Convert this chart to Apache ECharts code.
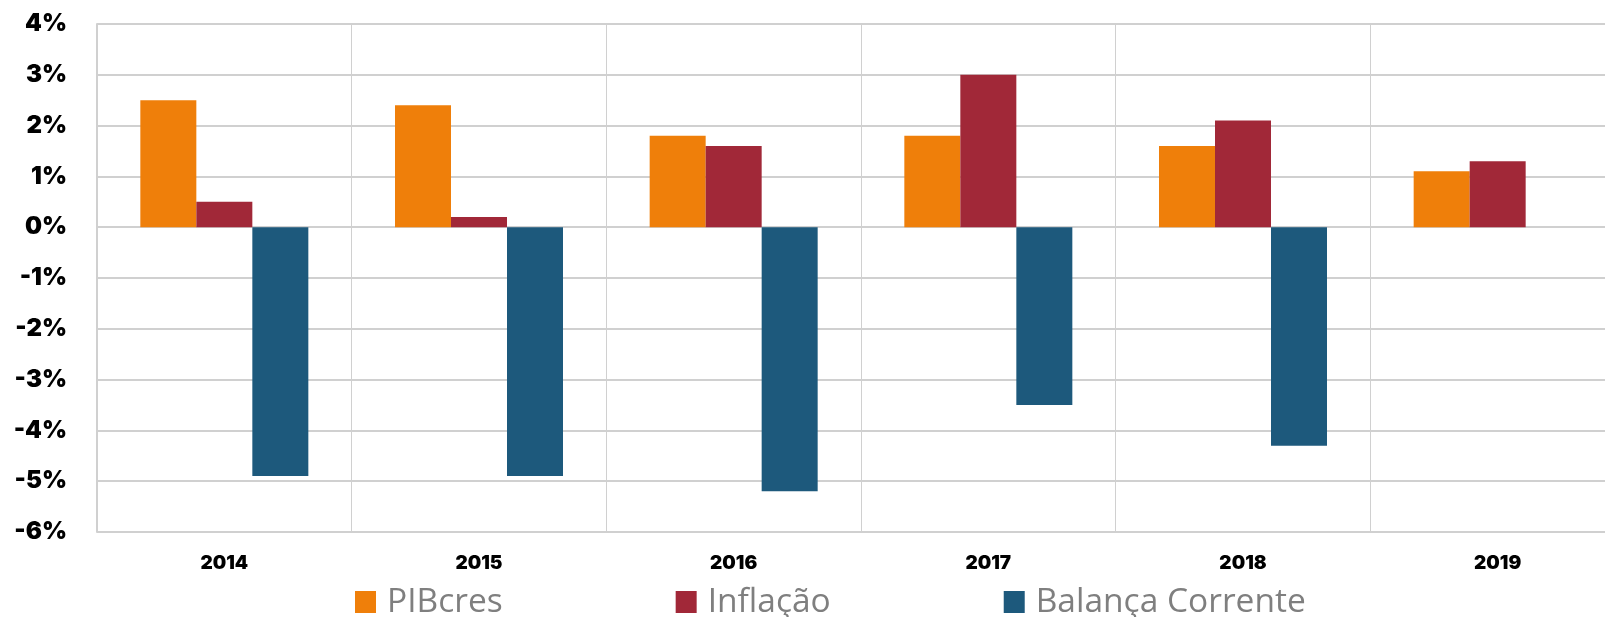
<!DOCTYPE html>
<html>
<head>
<meta charset="utf-8">
<script src="https://cdn.jsdelivr.net/npm/echarts@6/dist/echarts.min.js"></script>
<style>
html,body{margin:0;padding:0;background:#fff;}
#chart{width:1605px;height:617px;}
</style>
</head>
<body>
<div id="chart"></div>
<script>
var categories = ['2014', '2015', '2016', '2017', '2018', '2019'];
var pibcres = [2.5, 2.4, 1.8, 1.8, 1.6, 1.1];
var inflacao = [0.5, 0.2, 1.6, 3.0, 2.1, 1.3];
var balancaCorrente = [-4.9, -4.9, -5.2, -3.5, -4.3, null];
var seriesNames = ['PIBcres', 'Inflação', 'Balança Corrente'];

var chart = echarts.init(document.getElementById('chart'));
var gridColor = '#d0d0d0';
var option = {
  animation: false,
  grid: {left: 97, width: 1528, top: 24, bottom: 85, containLabel: false, outerBoundsMode: 'none'},
  legend: {
    left: 350, top: 580, itemGap: 173, itemWidth: 21, itemHeight: 22,
    icon: 'rect',
    textStyle: {fontFamily: 'Open Sans', fontSize: 33.5, color: '#7f7f7f', padding: [0, 0, 0, 6]},
    data: seriesNames
  },
  xAxis: {
    type: 'category', data: categories,
    axisLine: {show: false},
    axisTick: {show: false},
    splitLine: {show: true, lineStyle: {color: gridColor, width: 1}},
    axisLabel: {fontFamily: 'Inter', fontWeight: 900, fontSize: 19, color: '#000', margin: 22}
  },
  yAxis: {
    type: 'value', min: -6, max: 4, interval: 1,
    axisLine: {show: true, lineStyle: {color: gridColor, width: 2}},
    axisTick: {show: false},
    splitLine: {show: true, lineStyle: {color: gridColor, width: 2}},
    axisLabel: {fontFamily: 'Inter', fontWeight: 900, fontSize: 24, color: '#000', margin: 30,
      formatter: function (v) { return v + '%'; }}
  },
  series: [
    {name: seriesNames[0], type: 'bar', data: pibcres, barWidth: 56, barGap: '0%', itemStyle: {color: '#EF7F0A'}},
    {name: seriesNames[1], type: 'bar', data: inflacao, barWidth: 56, barGap: '0%', itemStyle: {color: '#A12838'}},
    {name: seriesNames[2], type: 'bar', data: balancaCorrente, barWidth: 56, barGap: '0%', itemStyle: {color: '#1D597C'}}
  ]
};
chart.setOption(option);
</script>
</body>
</html>
